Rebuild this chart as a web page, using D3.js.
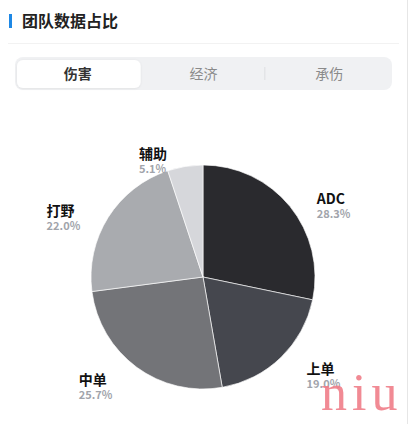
<!DOCTYPE html>
<html>
<head>
<meta charset="utf-8">
<script src="https://cdn.jsdelivr.net/npm/d3@7"></script>
<style>
  html, body { margin: 0; padding: 0; background: #fff; }
  svg { display: block; font-family: "Noto Sans CJK SC", "Noto Sans", sans-serif; }
</style>
</head>
<body>
<div id="chart"></div>
<script>
// Chart data.
const names = ["ADC", "上单", "中单", "打野", "辅助"];
const values = [28.3, 19.0, 25.7, 22.0, 5.1];
const colors = ["#2a2a2e", "#45474e", "#737478", "#a9abaf", "#d6d7db"];
const tabs = ["伤害", "经济", "承伤"];
const title = "团队数据占比";

const width = 410;
const height = 424;

const svg = d3.select("#chart")
  .append("svg")
  .attr("width", width)
  .attr("height", height);

// Card right border.
svg.append("line")
  .attr("x1", 407.5).attr("x2", 407.5)
  .attr("y1", 0).attr("y2", height)
  .attr("stroke", "#e6e6e6");

// Header.
svg.append("rect")
  .attr("x", 9).attr("y", 14)
  .attr("width", 3).attr("height", 14)
  .attr("fill", "#1e88e5");

svg.append("text")
  .attr("x", 22).attr("y", 27)
  .attr("font-size", 16)
  .attr("font-weight", "bold")
  .attr("fill", "#222")
  .text(title);

svg.append("line")
  .attr("x1", 8).attr("x2", 399)
  .attr("y1", 43.5).attr("y2", 43.5)
  .attr("stroke", "#f2f2f2");

// Tab bar.
const defs = svg.append("defs");
const shadow = defs.append("filter").attr("id", "tabShadow")
  .attr("x", "-10%").attr("y", "-30%").attr("width", "120%").attr("height", "160%");
shadow.append("feDropShadow")
  .attr("dx", 0).attr("dy", 0.5)
  .attr("stdDeviation", 1)
  .attr("flood-color", "#000")
  .attr("flood-opacity", 0.08);

const tabX = d3.scaleBand()
  .domain(tabs)
  .range([15, 392]);

svg.append("rect")
  .attr("x", 15).attr("y", 57)
  .attr("width", 377).attr("height", 33)
  .attr("rx", 8)
  .attr("fill", "#f0f1f3");

svg.append("rect")
  .attr("x", tabX(tabs[0]) + 2).attr("y", 60)
  .attr("width", tabX.bandwidth() - 2).attr("height", 28)
  .attr("rx", 6)
  .attr("fill", "#fff")
  .attr("filter", "url(#tabShadow)");

// Divider between the two inactive tabs.
svg.append("line")
  .attr("x1", tabX(tabs[2]) - 1.5).attr("x2", tabX(tabs[2]) - 1.5)
  .attr("y1", 67).attr("y2", 80)
  .attr("stroke", "#dddee1");

svg.append("g")
  .selectAll("text")
  .data(tabs)
  .join("text")
  .attr("x", (d) => tabX(d) + tabX.bandwidth() / 2)
  .attr("y", 79)
  .attr("text-anchor", "middle")
  .attr("font-size", 14)
  .attr("font-weight", (d, i) => (i === 0 ? "bold" : "normal"))
  .attr("fill", (d, i) => (i === 0 ? "#333" : "#8a8a8a"))
  .text((d) => d);

// Pie.
const cx = 203;
const cy = 277;
const radius = 112;
const labelRadius = 126;
const labelGap = 16;

const pie = d3.pie().sort(null).value((d) => d);
const arcs = pie(values);
const arc = d3.arc().innerRadius(0).outerRadius(radius);

const gPie = svg.append("g").attr("transform", `translate(${cx},${cy})`);

gPie.selectAll("path")
  .data(arcs)
  .join("path")
  .attr("d", arc)
  .attr("fill", (d, i) => colors[i])
  .attr("stroke", "#fff")
  .attr("stroke-opacity", 0.8)
  .attr("stroke-width", 0.8);

// Labels: anchor on the mid angle, pushed sideways away from the pie.
const labels = gPie.selectAll(".pie-label")
  .data(arcs)
  .join("g")
  .attr("class", "pie-label");

labels.append("text")
  .attr("class", "name")
  .attr("font-size", 14)
  .attr("font-weight", "bold")
  .attr("fill", "#111")
  .text((d, i) => names[i]);

labels.append("text")
  .attr("class", "pct")
  .attr("y", 14)
  .attr("font-size", 11)
  .attr("font-weight", "bold")
  .attr("fill", "#a1a4ab")
  .text((d) => `${d.value.toFixed(1)}%`);

labels.attr("transform", function (d) {
  const a = (d.startAngle + d.endAngle) / 2;
  const px = labelRadius * Math.sin(a);
  const py = -labelRadius * Math.cos(a) + 6;
  const w = d3.max(d3.select(this).selectAll("text").nodes(), (n) => n.getComputedTextLength());
  const x = Math.sin(a) >= 0 ? px + labelGap : px - labelGap - w;
  return `translate(${x},${py})`;
});

// Watermark.
svg.append("text")
  .attr("x", 321)
  .attr("y", 410)
  .attr("font-family", "Liberation Serif, DejaVu Serif, serif")
  .attr("font-size", 52)
  .attr("letter-spacing", 5)
  .attr("fill", "#f07d88")
  .attr("fill-opacity", 0.9)
  .text("niu");
</script>
</body>
</html>
